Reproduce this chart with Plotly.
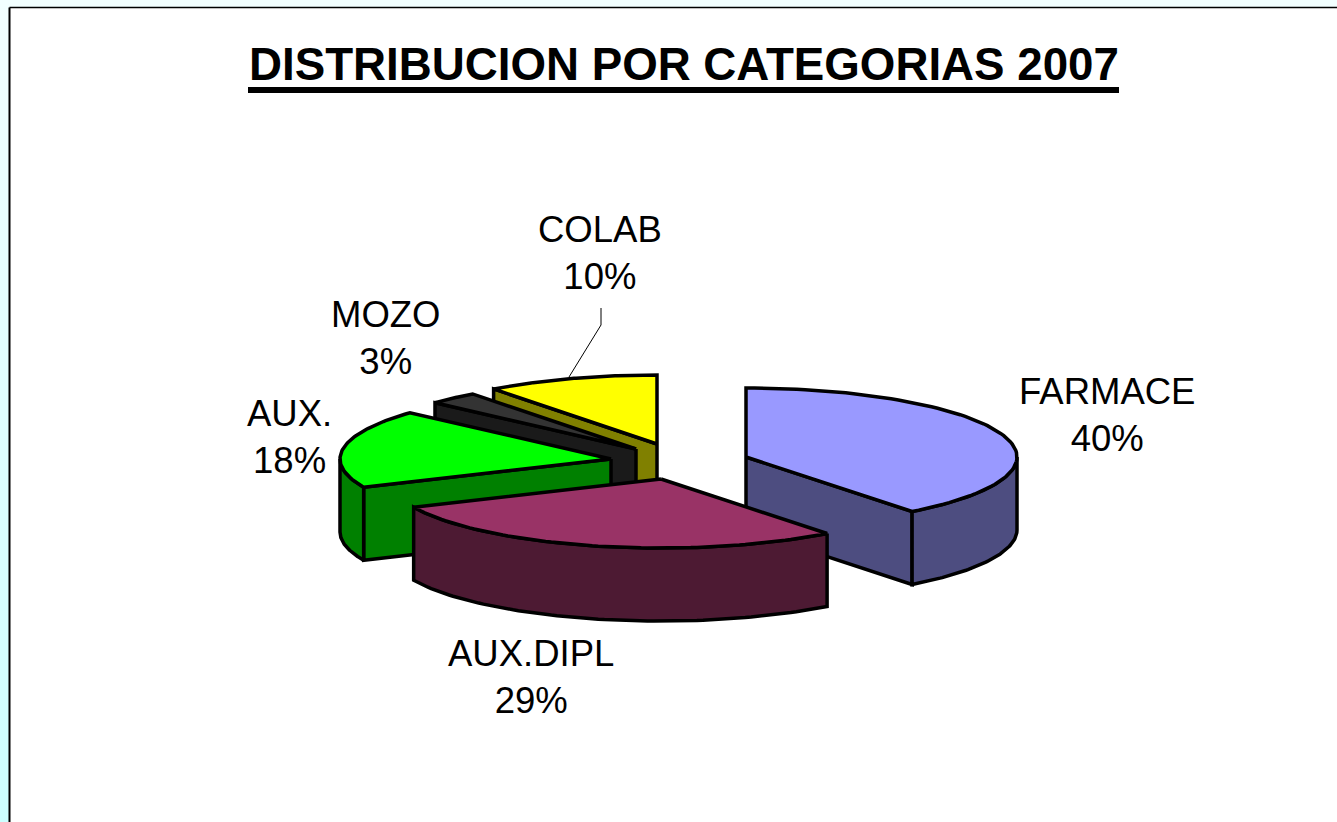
import numpy as np
import plotly.graph_objects as go

# Data: share of each category (clockwise from 12 o'clock)
categories = ["FARMACE", "AUX.DIPL", "AUX.", "MOZO", "COLAB"]
shares = [39.5, 28.8, 18.4, 3.0, 10.3]

# Style
top_colors = ["#9999FF", "#993366", "#00FF00", "#333333", "#FFFF00"]
side_colors = ["#4D4D80", "#4D1A33", "#008000", "#1A1A1A", "#808000"]
apex_x = [746, 661, 611, 636, 657]
apex_y = [457, 479, 459, 449, 444]
label_x = [1107, 531, 289, 385, 600]
label_y = [415, 677, 437, 338, 253]
draw_order = [4, 3, 2, 0, 1]
RX, RY, DEPTH = 271, 69, 73
TITLE = "DISTRIBUCION POR CATEGORIAS 2007"

fig = go.Figure()


def arc(cx, cy, a0, a1):
    t = np.radians(np.linspace(a0, a1, 80))
    return cx + RX * np.sin(t), cy - RY * np.cos(t)


def poly(xs, ys, color):
    fig.add_trace(go.Scatter(
        x=list(xs) + [xs[0]], y=list(ys) + [ys[0]], mode="lines", fill="toself",
        fillcolor=color, line=dict(color="black", width=3.5), hoverinfo="skip",
        showlegend=False))


# Page background: pale cyan strips around the framed chart
for xs, ys in [([0, 9, 9, 0], [0, 0, 822, 822]), ([0, 1337, 1337, 0], [0, 0, 7, 7])]:
    fig.add_trace(go.Scatter(
        x=xs + [xs[0]], y=ys + [ys[0]], mode="lines", fill="toself", line=dict(width=0),
        fillgradient=dict(type="vertical", colorscale=[[0, "#F2FFFF"], [1, "#CCFFFF"]],
                          start=0, stop=822),
        hoverinfo="skip", showlegend=False))

# Angular limits of each slice from the shares
edges = np.cumsum([0] + shares) / sum(shares) * 360
for i in draw_order:
    a0, a1 = edges[i], edges[i + 1]
    cx, cy = apex_x[i], apex_y[i]
    # flat cut walls that face the viewer
    for ang, visible in ((a0, 180 < a0 < 360), (a1, 0 < a1 < 180)):
        if visible:
            ex, ey = arc(cx, cy, ang, ang)
            poly([cx, ex[0], ex[0], cx], [cy, ey[0], ey[0] + DEPTH, cy + DEPTH], side_colors[i])
    # curved rim on the front half
    f0, f1 = max(a0, 90), min(a1, 270)
    if f1 > f0:
        rx, ry = arc(cx, cy, f0, f1)
        poly(list(rx) + list(rx[::-1]), list(ry) + list(ry[::-1] + DEPTH), side_colors[i])
    # top surface
    tx, ty = arc(cx, cy, a0, a1)
    poly([cx] + list(tx), [cy] + list(ty), top_colors[i])

# Leader line of the COLAB label
fig.add_trace(go.Scatter(x=[601, 601, 569], y=[308, 325, 377], mode="lines",
                         line=dict(color="black", width=1), hoverinfo="skip", showlegend=False))

for name, s, lx, ly in zip(categories, shares, label_x, label_y):
    fig.add_annotation(x=lx, y=ly, text=f"{name}<br>{round(s)}%", showarrow=False,
                       font=dict(family="Liberation Sans", size=36.5, color="black"))

fig.add_annotation(x=683.5, y=64, text=TITLE, showarrow=False,
                   font=dict(family="Liberation Sans", size=45.7, color="black", weight="bold"))

fig.update_layout(
    width=1337, height=822, margin=dict(l=0, r=0, t=0, b=0),
    paper_bgcolor="white", plot_bgcolor="white",
    xaxis=dict(range=[0, 1337], visible=False, fixedrange=True),
    yaxis=dict(range=[822, 0], visible=False, fixedrange=True),
    shapes=[
        dict(type="line", x0=248, x1=1119, y0=90, y1=90, line=dict(color="black", width=6)),
        dict(type="line", x0=9.5, x1=1337, y0=7.5, y1=7.5, line=dict(color="black", width=1.5)),
        dict(type="line", x0=9.5, x1=9.5, y0=7.5, y1=822, line=dict(color="black", width=2)),
    ],
)

fig.write_html("out.html", config={"displayModeBar": False},
               post_script="document.body.style.margin='0';document.documentElement.style.overflow='hidden';")
